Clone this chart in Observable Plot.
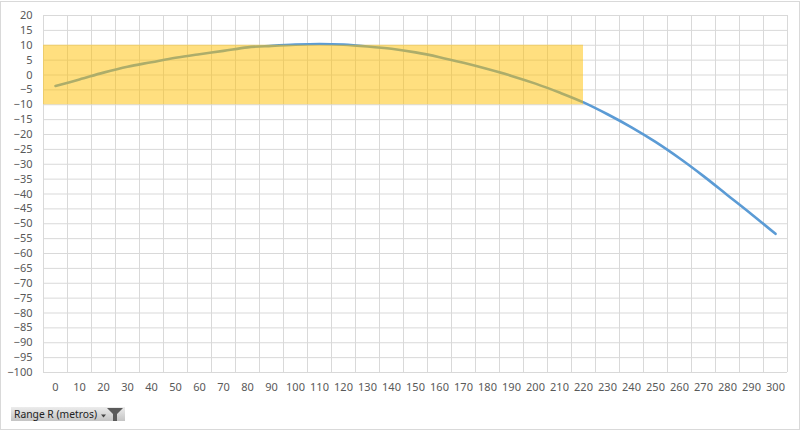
<!DOCTYPE html>
<html>
<head>
<meta charset="utf-8">
<script src="https://cdn.jsdelivr.net/npm/d3@7"></script>
<script src="https://cdn.jsdelivr.net/npm/@observablehq/plot@0.6"></script>
<style>
  html, body { margin: 0; padding: 0; background: #fff; }
  #wrap { position: relative; width: 800px; height: 431px; overflow: hidden; font-family: "Noto Sans", "Open Sans", sans-serif; }
  #frame { position: absolute; left: 0; top: 1px; width: 798px; height: 427px; border: 1px solid #d9d9d9; pointer-events: none; }
  #btn { position: absolute; left: 11px; top: 407px; width: 114px; height: 14px;
         background: linear-gradient(#ececec, #c4c4c4); font-size: 10.3px; line-height: 14px; color: #222;
         display: flex; align-items: center; }
  #btn span { padding-left: 3px; white-space: nowrap; }
  #btn svg { position: absolute; right: 1px; top: 0px; }
</style>
</head>
<body>
<div id="wrap">
  <div id="chart"></div>
  <div id="frame"></div>
  <div id="btn"><span>Range R (metros)</span>
    <svg width="24" height="14" viewBox="0 0 24 14">
      <path d="M1 7.5 L6 7.5 L3.5 10.5 Z" fill="#444"/>
      <path d="M7 1 L23 1 L17 7 L17 14 L13 14 L13 7 Z" fill="#5a5a5a"/>
    </svg>
  </div>
</div>
<script>
// Categories (Range R in metres)
const ranges = [0,10,20,30,40,50,60,70,80,90,100,110,120,130,140,150,160,170,180,190,200,210,220,230,240,250,260,270,280,290,300];
// Drop values
const drops = [-3.7,-1.5,0.8,2.8,4.3,5.8,7.0,8.1,9.3,9.8,10.2,10.4,10.2,9.6,8.8,7.6,6.0,4.1,2.0,-0.3,-2.9,-5.9,-9.2,-13.2,-17.6,-22.5,-28.0,-34.0,-40.4,-46.8,-53.4];
// Y axis tick labels
const yTicks = d3.range(-100, 21, 5);
// Target band: up to 220 m, between -10 and +10
const bandEnd = 220;
const bandLow = -10;
const bandHigh = 10;

const data = ranges.map((r, i) => ({r, v: drops[i]}));
const step = 10;
const xMin = ranges[0] - step / 2;
const xMax = ranges[ranges.length - 1] + step / 2;
const boundaries = d3.range(xMin, xMax + 0.001, step);

const chart = Plot.plot({
  width: 800,
  height: 431,
  marginLeft: 43,
  marginRight: 13,
  marginTop: 15,
  marginBottom: 59,
  style: { fontFamily: "'Noto Sans', 'Open Sans', sans-serif", fontSize: "11px", color: "#595959", background: "transparent" },
  x: { type: "linear", domain: [xMin, xMax] },
  y: { domain: [-100, 20] },
  marks: [
    Plot.ruleY(yTicks, { stroke: "#d9d9d9", strokeWidth: 1 }),
    Plot.ruleX(boundaries, { stroke: "#d9d9d9", strokeWidth: 1 }),
    Plot.line(data, { x: "r", y: "v", stroke: "#5b9bd5", strokeWidth: 2.6, curve: "catmull-rom", strokeLinecap: "round" }),
    Plot.rect([{x1: xMin, x2: bandEnd, y1: bandLow, y2: bandHigh}], { x1: "x1", x2: "x2", y1: "y1", y2: "y2", fill: "#ffc000", fillOpacity: 0.5 }),
    Plot.axisY({ ticks: yTicks, tickSize: 0, tickPadding: 11, label: null, fill: "#595959" }),
    Plot.axisX({ ticks: ranges, tickSize: 0, tickPadding: 11, label: null, fill: "#595959", tickFormat: d => String(d) })
  ]
});
document.getElementById("chart").appendChild(chart);
</script>
</body>
</html>
